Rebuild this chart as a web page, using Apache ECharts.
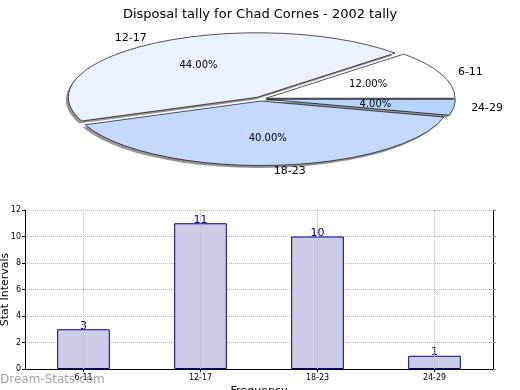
<!DOCTYPE html>
<html>
<head>
<meta charset="utf-8">
<script src="https://cdn.jsdelivr.net/npm/echarts@6/dist/echarts.min.js"></script>
<style>html,body{margin:0;padding:0;background:#fff}#c{width:520px;height:390px}</style>
</head>
<body>
<div id="c"></div>
<script>
const chartTitle = 'Disposal tally for Chad Cornes - 2002 tally';
const categories = ['6-11', '12-17', '18-23', '24-29'];
const counts = [3, 11, 10, 1];
const yAxisName = 'Stat Intervals';
const xAxisName = 'Frequency';
const watermark = 'Dream-Stats.com';

const FONT = 'DejaVu Sans';
const sliceColors = ['#FFFFFF', '#EBF2FF', '#C5D9FF', '#B5D4FF'];
// pie layout (pixels)
const PIE = { cx: 260.5, cy: 99, rx: 189, ry: 64.5, explode: 6, labelRx: 193, labelRy: 66 };

const total = counts.reduce((a, b) => a + b, 0);
const cum = [];
counts.reduce((acc, v, i) => { cum[i] = acc; return acc + v; }, 0);

function sliceGeom(i) {
  const a0 = cum[i] / total * 2 * Math.PI;
  const a1 = (cum[i] + counts[i]) / total * 2 * Math.PI;
  const mid = (a0 + a1) / 2;
  return { a0, a1, mid };
}

function sectorEl(i, fill, stroke, dx, dy) {
  const g = sliceGeom(i);
  const e = PIE.explode;
  return {
    type: 'group',
    x: PIE.cx + dx, y: PIE.cy + dy,
    scaleY: PIE.ry / PIE.rx,
    children: [{
      type: 'sector',
      shape: {
        cx: e * Math.cos(g.mid), cy: -e * Math.sin(g.mid),
        r: PIE.rx, r0: 0,
        startAngle: -g.a0, endAngle: -g.a1, clockwise: false
      },
      style: stroke ? { fill: fill, stroke: stroke, lineWidth: 1, strokeNoScale: true } : { fill: fill }
    }]
  };
}

function renderShadow(params, api) {
  return sectorEl(params.dataIndex, '#959595', null, -2.5, 2.5);
}

function renderSlice(params, api) {
  const i = params.dataIndex;
  const g = sliceGeom(i);
  const c = Math.cos(g.mid), s = Math.sin(g.mid);
  const pct = (counts[i] / total * 100).toFixed(2) + '%';
  return {
    type: 'group',
    children: [
      sectorEl(i, sliceColors[i], '#000', 0, 0),
      {
        type: 'text',
        x: PIE.cx + 0.6 * PIE.labelRx * c,
        y: PIE.cy - 0.6 * PIE.labelRy * s,
        z2: 10,
        style: { text: pct, fill: '#000', fontSize: 10, fontFamily: FONT, align: 'center', verticalAlign: 'middle' }
      },
      {
        type: 'text',
        x: PIE.cx + 1.1 * PIE.labelRx * c,
        y: PIE.cy - 1.1 * PIE.labelRy * s,
        z2: 10,
        style: { text: categories[i], fill: '#000', fontSize: 11, fontFamily: FONT, align: c >= 0 ? 'left' : 'right', verticalAlign: 'middle' }
      }
    ]
  };
}

const chart = echarts.init(document.getElementById('c'), null, { renderer: 'canvas' });
chart.setOption({
  animation: false,
  backgroundColor: '#fff',
  textStyle: { fontFamily: FONT },
  title: {
    text: chartTitle, left: 'center', top: 3,
    textStyle: { fontSize: 13, fontWeight: 'normal', color: '#000', fontFamily: FONT }
  },
  grid: { left: 25, right: 27, top: 210, bottom: 21, containLabel: false, outerBoundsMode: 'none' },
  xAxis: [{
    type: 'category', data: categories,
    axisLine: { lineStyle: { color: '#000', width: 1 } },
    axisTick: { show: true, alignWithLabel: true, length: 3, lineStyle: { color: '#000' } },
    axisLabel: { fontSize: 8, color: '#000', margin: 5, fontFamily: FONT },
    splitLine: { show: false },
    name: xAxisName, nameLocation: 'middle', nameGap: 17, nameMoveOverlap: false,
    nameTextStyle: { fontSize: 11, color: '#000', fontFamily: FONT }
  }, {
    type: 'category', data: categories, position: 'top',
    axisLine: { lineStyle: { color: '#000', width: 1 } },
    axisTick: { show: false }, axisLabel: { show: false }, splitLine: { show: false }
  }],
  yAxis: [{
    type: 'value', min: 0, max: 12, interval: 2,
    axisLine: { show: true, lineStyle: { color: '#000', width: 1 } },
    axisTick: { show: true, length: 3, lineStyle: { color: '#000' } },
    axisLabel: { fontSize: 8, color: '#000', margin: 4, fontFamily: FONT },
    splitLine: { show: true, lineStyle: { type: 'dotted', color: '#b8b8b8', width: 1 } },
    name: yAxisName, nameLocation: 'middle', nameGap: 14, nameMoveOverlap: false,
    nameTextStyle: { fontSize: 11, color: '#000', fontFamily: FONT }
  }, {
    type: 'value', min: 0, max: 12, interval: 2, position: 'right',
    axisLine: { show: true, lineStyle: { color: '#000', width: 1 } },
    axisTick: { show: true, length: 3, lineStyle: { color: '#888' } },
    axisLabel: { show: false }, splitLine: { show: false }
  }],
  graphic: [{
    type: 'text', left: 0, top: 374, z: 100,
    style: { text: watermark, fill: 'rgba(140,140,140,0.8)', fontSize: 12, fontWeight: 'normal', fontFamily: FONT }
  }],
  series: [
    {
      type: 'custom', coordinateSystem: 'none', z: 1, silent: true,
      renderItem: renderShadow, data: counts
    },
    {
      type: 'custom', coordinateSystem: 'none', z: 2, silent: true,
      renderItem: renderSlice, data: counts
    },
    {
      type: 'bar', data: counts, barWidth: '45%', xAxisIndex: 0, yAxisIndex: 0,
      itemStyle: { color: '#CCCCE6', borderColor: '#000080', borderWidth: 1 },
      label: { show: true, position: 'top', distance: -2, color: '#000080', fontSize: 11, fontFamily: FONT },
      markLine: {
        silent: true, symbol: 'none', label: { show: false },
        lineStyle: { type: 'dotted', color: '#b8b8b8', width: 1 },
        data: categories.map(c => ({ xAxis: c }))
      }
    }
  ]
});
</script>
</body>
</html>
